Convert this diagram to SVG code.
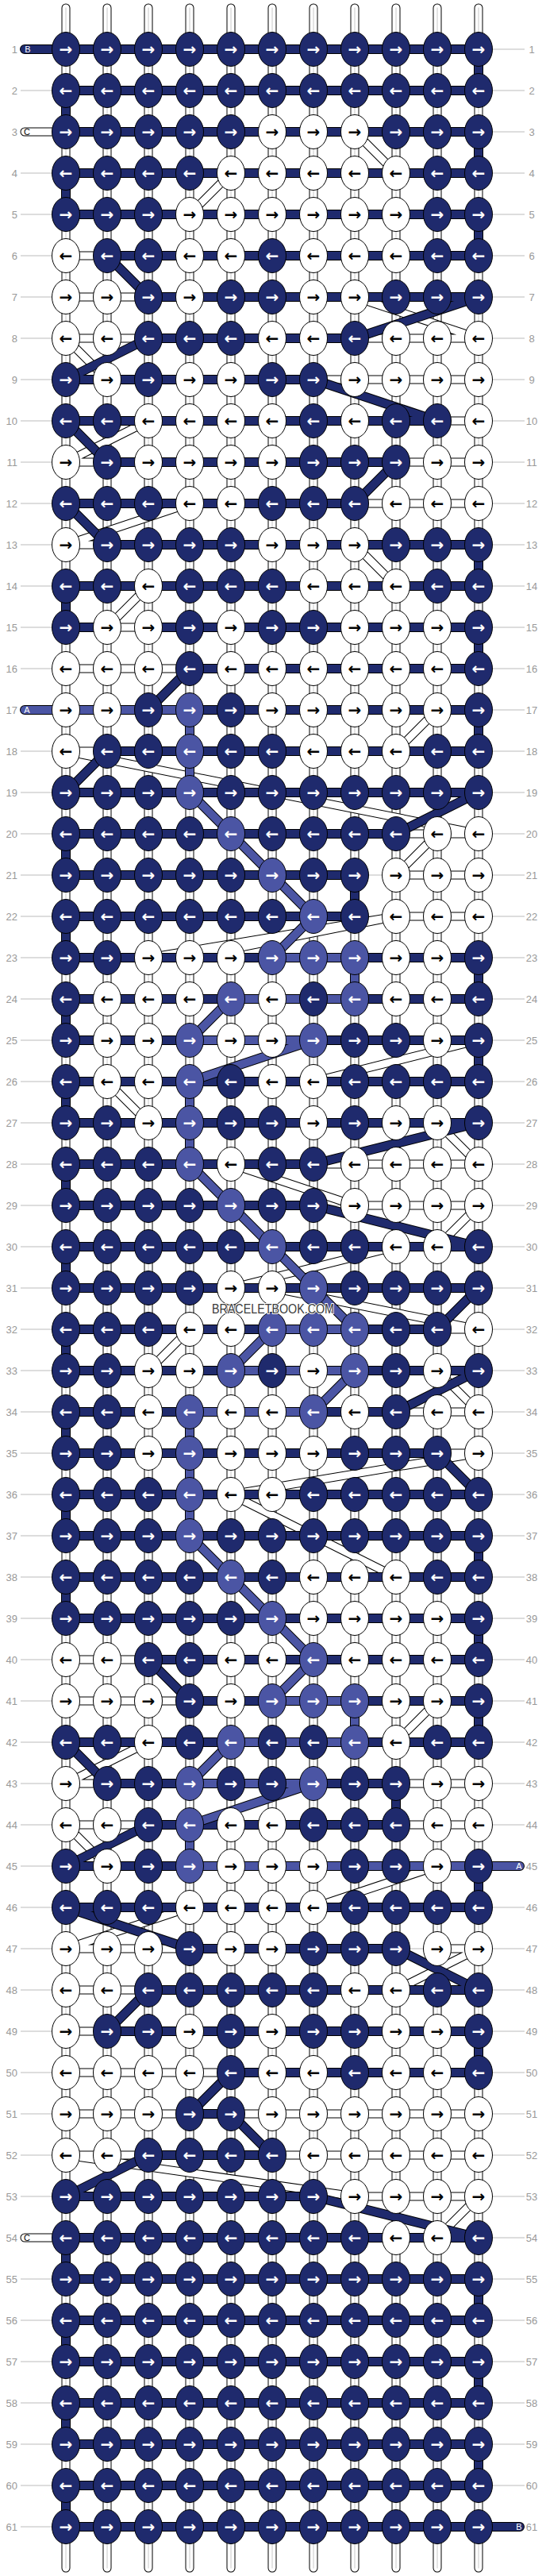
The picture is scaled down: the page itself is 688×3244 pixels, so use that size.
<svg xmlns="http://www.w3.org/2000/svg" xmlns:xlink="http://www.w3.org/1999/xlink" width="688" height="3244" viewBox="0 0 688 3244">
<style>
ellipse{rx:17.5px;ry:21.5px;fill:#1f2a6d;stroke:#000;stroke-width:1}
.w ellipse{fill:#fff}
.m ellipse{fill:#4b55a4}
#knots text{font-family:"DejaVu Sans",sans-serif;font-weight:bold;font-size:20px;fill:#fff;text-anchor:middle;dominant-baseline:central}
#knots .w text{fill:#000}
.lab text{font-family:"Liberation Sans",Arial,sans-serif;font-size:13px;fill:#999;dominant-baseline:central}
.tag{font-family:"Liberation Sans",Arial,sans-serif;font-size:11px;text-anchor:middle;dominant-baseline:central}
</style>
<defs>
<pattern id="rl" patternUnits="userSpaceOnUse" x="0" y="36" width="688" height="52"><rect y="25.5" width="688" height="1" fill="#bbb"/></pattern>
<path id="pv" vector-effect="non-scaling-stroke" d="M1 0V62M2 0V62M3 0V62M4 0V62M5 0V62M6 0V62M7 0V62M8 0V62M9 0V62M10 0V62M11 0V62"/>
<path id="pw" vector-effect="non-scaling-stroke" d="M0 3H1M1 6H2M1 7H3M1 8H3M8 8H11M7 9H11M10 10H11M1 11H2M9 11H11M8 12H11M1 13H2M2 15H3M1 16H4M1 18H2M9 20H11M9 21H11M9 22H11M7 28H11M8 29H11M10 32H11M9 34H11M10 35H11M1 40H3M1 41H4M1 43H2M9 43H11M1 44H3M9 44H11M1 47H4M10 47H11M1 48H3M1 49H2M1 50H5M1 51H4M5 51H11M1 52H3M6 52H11M8 53H11M0 54H1M8 3L9 4M5 4L4 5M8 7L11 8M1 8L2 9M3 10L1 11M4 12L1 13M8 13L9 14M3 14L2 15M10 17L9 18M1 18L11 20M10 20L9 21M9 22L3 23M9 22L4 23M11 25L7 26M2 26L3 27M10 27L11 28M5 28L8 29M11 29L10 30M9 30L5 31M6 31L11 32M4 32L3 33M10 33L11 34M11 35L5 36M5 36L9 38M10 41L9 42M3 42L1 43M1 44L2 45M10 45L7 46M4 46L1 47M11 47L9 48M1 52L8 53M11 53L10 54"/>
<path id="pn" vector-effect="non-scaling-stroke" d="M0 1H11M1 2H11M1 3H11M1 4H11M1 5H11M2 6H11M3 7H11M3 8H8M1 9H7M1 10H10M2 11H9M1 12H8M2 13H11M1 14H11M1 15H2M3 15H11M4 16H11M4 17H11M2 18H11M1 19H11M1 20H9M1 21H8M1 22H8M1 23H6M8 23H11M1 24H5M8 24H11M1 25H4M7 25H11M1 26H11M1 27H11M1 28H7M1 29H7M1 30H11M1 31H11M1 32H6M8 32H10M1 33H5M8 33H11M1 34H4M7 34H9M1 35H10M1 36H11M1 37H11M1 38H11M1 39H11M3 40H11M4 41H6M8 41H11M1 42H5M8 42H11M2 43H4M7 43H9M3 44H9M1 45H4M1 46H11M4 47H9M3 48H11M2 49H11M5 50H11M4 51H5M3 52H6M1 53H7M1 54H11M1 55H11M1 56H11M1 57H11M1 58H11M1 59H11M1 60H11M1 61H12M11 1V2M1 2V3M11 3V4M1 4V5M11 5V6M11 13V14M1 14V15M11 15V16M11 17V18M1 20V21M8 21V22M1 22V23M11 23V24M1 24V25M11 25V26M1 26V27M1 28V29M1 30V31M1 32V33M1 34V35M1 36V37M11 37V38M1 38V39M11 39V40M11 41V42M9 43V44M11 45V46M11 49V50M1 54V55M11 55V56M1 56V57M11 57V58M1 58V59M11 59V60M1 60V61M2 6L3 7M11 7L8 8M3 8L1 9M7 9L10 10M1 10L2 11M9 11L8 12M1 12L2 13M4 16L3 17M2 18L1 19M11 19L9 20M11 27L7 28M7 29L11 30M11 31L10 32M11 33L9 34M10 35L11 36M3 40L4 41M1 42L2 43M3 44L1 45M1 46L4 47M9 47L11 48M3 48L2 49M5 50L4 51M5 51L6 52M3 52L1 53M7 53L11 54"/>
<path id="pm" vector-effect="non-scaling-stroke" d="M0 17H4M6 23H8M5 24H8M4 25H7M6 32H8M5 33H8M4 34H7M6 41H8M5 42H8M4 43H7M4 45H12M4 17V19M8 23V24M4 26V28M4 34V37M8 41V42M4 44V45M4 19L7 22L6 23M5 24L4 25M7 25L4 26M4 28L8 32M6 32L5 33M8 33L7 34M4 37L7 40L6 41M5 42L4 43M7 43L4 44"/>
</defs>
<rect width="688" height="3244" fill="#fff"/>
<rect x="26" y="36" width="635" height="3172" fill="url(#rl)"/>
<g id="connectors" transform="matrix(52 0 0 52 31 10)" fill="none" stroke-linecap="round" stroke-linejoin="round">
<use href="#pv" stroke="#000" stroke-width="11"/>
<use href="#pv" stroke="#fff" stroke-width="9"/>
<use href="#pv" stroke="#c8c8c8" stroke-width="1"/>
<use href="#pw" stroke="#000" stroke-width="11"/>
<use href="#pw" stroke="#fff" stroke-width="9"/>
<use href="#pn" stroke="#000" stroke-width="12"/>
<use href="#pn" stroke="#1f2a6d" stroke-width="10"/>
<use href="#pm" stroke="#000" stroke-width="12"/>
<use href="#pm" stroke="#4b55a4" stroke-width="10"/>
</g>
<g id="tags">
<text class="tag" x="35" y="62" fill="#fff">B</text>
<text class="tag" x="34" y="166" fill="#000">C</text>
<text class="tag" x="34" y="894" fill="#fff">A</text>
<text class="tag" x="34" y="2818" fill="#000">C</text>
<text class="tag" x="654" y="2350" fill="#fff">A</text>
<text class="tag" x="654" y="3182" fill="#fff">B</text>
</g>
<g id="knots">
<g id="r1" transform="translate(0 62)"><g id="n1_1"><ellipse cx="83"/><text x="83">→</text></g><g id="n1_2"><ellipse cx="135"/><text x="135">→</text></g><g id="n1_3"><ellipse cx="187"/><text x="187">→</text></g><g id="n1_4"><ellipse cx="239"/><text x="239">→</text></g><g id="n1_5"><ellipse cx="291"/><text x="291">→</text></g><g id="n1_6"><ellipse cx="343"/><text x="343">→</text></g><g id="n1_7"><ellipse cx="395"/><text x="395">→</text></g><g id="n1_8"><ellipse cx="447"/><text x="447">→</text></g><g id="n1_9"><ellipse cx="499"/><text x="499">→</text></g><g id="n1_10"><ellipse cx="551"/><text x="551">→</text></g><g id="n1_11"><ellipse cx="603"/><text x="603">→</text></g></g>
<g id="r2" transform="translate(0 114)"><g id="n2_1"><ellipse cx="83"/><text x="83">←</text></g><g id="n2_2"><ellipse cx="135"/><text x="135">←</text></g><g id="n2_3"><ellipse cx="187"/><text x="187">←</text></g><g id="n2_4"><ellipse cx="239"/><text x="239">←</text></g><g id="n2_5"><ellipse cx="291"/><text x="291">←</text></g><g id="n2_6"><ellipse cx="343"/><text x="343">←</text></g><g id="n2_7"><ellipse cx="395"/><text x="395">←</text></g><g id="n2_8"><ellipse cx="447"/><text x="447">←</text></g><g id="n2_9"><ellipse cx="499"/><text x="499">←</text></g><g id="n2_10"><ellipse cx="551"/><text x="551">←</text></g><g id="n2_11"><ellipse cx="603"/><text x="603">←</text></g></g>
<g id="r3" transform="translate(0 166)"><g id="n3_1"><ellipse cx="83"/><text x="83">→</text></g><g id="n3_2"><ellipse cx="135"/><text x="135">→</text></g><g id="n3_3"><ellipse cx="187"/><text x="187">→</text></g><g id="n3_4"><ellipse cx="239"/><text x="239">→</text></g><g id="n3_5"><ellipse cx="291"/><text x="291">→</text></g><g id="n3_6" class="w"><ellipse cx="343"/><text x="343">→</text></g><g id="n3_7" class="w"><ellipse cx="395"/><text x="395">→</text></g><g id="n3_8" class="w"><ellipse cx="447"/><text x="447">→</text></g><g id="n3_9"><ellipse cx="499"/><text x="499">→</text></g><g id="n3_10"><ellipse cx="551"/><text x="551">→</text></g><g id="n3_11"><ellipse cx="603"/><text x="603">→</text></g></g>
<g id="r4" transform="translate(0 218)"><g id="n4_1"><ellipse cx="83"/><text x="83">←</text></g><g id="n4_2"><ellipse cx="135"/><text x="135">←</text></g><g id="n4_3"><ellipse cx="187"/><text x="187">←</text></g><g id="n4_4"><ellipse cx="239"/><text x="239">←</text></g><g id="n4_5" class="w"><ellipse cx="291"/><text x="291">←</text></g><g id="n4_6" class="w"><ellipse cx="343"/><text x="343">←</text></g><g id="n4_7" class="w"><ellipse cx="395"/><text x="395">←</text></g><g id="n4_8" class="w"><ellipse cx="447"/><text x="447">←</text></g><g id="n4_9" class="w"><ellipse cx="499"/><text x="499">←</text></g><g id="n4_10"><ellipse cx="551"/><text x="551">←</text></g><g id="n4_11"><ellipse cx="603"/><text x="603">←</text></g></g>
<g id="r5" transform="translate(0 270)"><g id="n5_1"><ellipse cx="83"/><text x="83">→</text></g><g id="n5_2"><ellipse cx="135"/><text x="135">→</text></g><g id="n5_3"><ellipse cx="187"/><text x="187">→</text></g><g id="n5_4" class="w"><ellipse cx="239"/><text x="239">→</text></g><g id="n5_5" class="w"><ellipse cx="291"/><text x="291">→</text></g><g id="n5_6" class="w"><ellipse cx="343"/><text x="343">→</text></g><g id="n5_7" class="w"><ellipse cx="395"/><text x="395">→</text></g><g id="n5_8" class="w"><ellipse cx="447"/><text x="447">→</text></g><g id="n5_9" class="w"><ellipse cx="499"/><text x="499">→</text></g><g id="n5_10"><ellipse cx="551"/><text x="551">→</text></g><g id="n5_11"><ellipse cx="603"/><text x="603">→</text></g></g>
<g id="r6" transform="translate(0 322)"><g id="n6_1" class="w"><ellipse cx="83"/><text x="83">←</text></g><g id="n6_2"><ellipse cx="135"/><text x="135">←</text></g><g id="n6_3"><ellipse cx="187"/><text x="187">←</text></g><g id="n6_4" class="w"><ellipse cx="239"/><text x="239">←</text></g><g id="n6_5" class="w"><ellipse cx="291"/><text x="291">←</text></g><g id="n6_6"><ellipse cx="343"/><text x="343">←</text></g><g id="n6_7" class="w"><ellipse cx="395"/><text x="395">←</text></g><g id="n6_8" class="w"><ellipse cx="447"/><text x="447">←</text></g><g id="n6_9" class="w"><ellipse cx="499"/><text x="499">←</text></g><g id="n6_10"><ellipse cx="551"/><text x="551">←</text></g><g id="n6_11"><ellipse cx="603"/><text x="603">←</text></g></g>
<g id="r7" transform="translate(0 374)"><g id="n7_1" class="w"><ellipse cx="83"/><text x="83">→</text></g><g id="n7_2" class="w"><ellipse cx="135"/><text x="135">→</text></g><g id="n7_3"><ellipse cx="187"/><text x="187">→</text></g><g id="n7_4" class="w"><ellipse cx="239"/><text x="239">→</text></g><g id="n7_5"><ellipse cx="291"/><text x="291">→</text></g><g id="n7_6"><ellipse cx="343"/><text x="343">→</text></g><g id="n7_7" class="w"><ellipse cx="395"/><text x="395">→</text></g><g id="n7_8" class="w"><ellipse cx="447"/><text x="447">→</text></g><g id="n7_9"><ellipse cx="499"/><text x="499">→</text></g><g id="n7_10"><ellipse cx="551"/><text x="551">→</text></g><g id="n7_11"><ellipse cx="603"/><text x="603">→</text></g></g>
<g id="r8" transform="translate(0 426)"><g id="n8_1" class="w"><ellipse cx="83"/><text x="83">←</text></g><g id="n8_2" class="w"><ellipse cx="135"/><text x="135">←</text></g><g id="n8_3"><ellipse cx="187"/><text x="187">←</text></g><g id="n8_4"><ellipse cx="239"/><text x="239">←</text></g><g id="n8_5"><ellipse cx="291"/><text x="291">←</text></g><g id="n8_6" class="w"><ellipse cx="343"/><text x="343">←</text></g><g id="n8_7" class="w"><ellipse cx="395"/><text x="395">←</text></g><g id="n8_8"><ellipse cx="447"/><text x="447">←</text></g><g id="n8_9" class="w"><ellipse cx="499"/><text x="499">←</text></g><g id="n8_10" class="w"><ellipse cx="551"/><text x="551">←</text></g><g id="n8_11" class="w"><ellipse cx="603"/><text x="603">←</text></g></g>
<g id="r9" transform="translate(0 478)"><g id="n9_1"><ellipse cx="83"/><text x="83">→</text></g><g id="n9_2" class="w"><ellipse cx="135"/><text x="135">→</text></g><g id="n9_3"><ellipse cx="187"/><text x="187">→</text></g><g id="n9_4" class="w"><ellipse cx="239"/><text x="239">→</text></g><g id="n9_5" class="w"><ellipse cx="291"/><text x="291">→</text></g><g id="n9_6"><ellipse cx="343"/><text x="343">→</text></g><g id="n9_7"><ellipse cx="395"/><text x="395">→</text></g><g id="n9_8" class="w"><ellipse cx="447"/><text x="447">→</text></g><g id="n9_9" class="w"><ellipse cx="499"/><text x="499">→</text></g><g id="n9_10" class="w"><ellipse cx="551"/><text x="551">→</text></g><g id="n9_11" class="w"><ellipse cx="603"/><text x="603">→</text></g></g>
<g id="r10" transform="translate(0 530)"><g id="n10_1"><ellipse cx="83"/><text x="83">←</text></g><g id="n10_2"><ellipse cx="135"/><text x="135">←</text></g><g id="n10_3" class="w"><ellipse cx="187"/><text x="187">←</text></g><g id="n10_4" class="w"><ellipse cx="239"/><text x="239">←</text></g><g id="n10_5" class="w"><ellipse cx="291"/><text x="291">←</text></g><g id="n10_6" class="w"><ellipse cx="343"/><text x="343">←</text></g><g id="n10_7"><ellipse cx="395"/><text x="395">←</text></g><g id="n10_8" class="w"><ellipse cx="447"/><text x="447">←</text></g><g id="n10_9"><ellipse cx="499"/><text x="499">←</text></g><g id="n10_10"><ellipse cx="551"/><text x="551">←</text></g><g id="n10_11" class="w"><ellipse cx="603"/><text x="603">←</text></g></g>
<g id="r11" transform="translate(0 582)"><g id="n11_1" class="w"><ellipse cx="83"/><text x="83">→</text></g><g id="n11_2"><ellipse cx="135"/><text x="135">→</text></g><g id="n11_3" class="w"><ellipse cx="187"/><text x="187">→</text></g><g id="n11_4" class="w"><ellipse cx="239"/><text x="239">→</text></g><g id="n11_5" class="w"><ellipse cx="291"/><text x="291">→</text></g><g id="n11_6" class="w"><ellipse cx="343"/><text x="343">→</text></g><g id="n11_7"><ellipse cx="395"/><text x="395">→</text></g><g id="n11_8"><ellipse cx="447"/><text x="447">→</text></g><g id="n11_9"><ellipse cx="499"/><text x="499">→</text></g><g id="n11_10" class="w"><ellipse cx="551"/><text x="551">→</text></g><g id="n11_11" class="w"><ellipse cx="603"/><text x="603">→</text></g></g>
<g id="r12" transform="translate(0 634)"><g id="n12_1"><ellipse cx="83"/><text x="83">←</text></g><g id="n12_2"><ellipse cx="135"/><text x="135">←</text></g><g id="n12_3"><ellipse cx="187"/><text x="187">←</text></g><g id="n12_4" class="w"><ellipse cx="239"/><text x="239">←</text></g><g id="n12_5" class="w"><ellipse cx="291"/><text x="291">←</text></g><g id="n12_6"><ellipse cx="343"/><text x="343">←</text></g><g id="n12_7"><ellipse cx="395"/><text x="395">←</text></g><g id="n12_8"><ellipse cx="447"/><text x="447">←</text></g><g id="n12_9" class="w"><ellipse cx="499"/><text x="499">←</text></g><g id="n12_10" class="w"><ellipse cx="551"/><text x="551">←</text></g><g id="n12_11" class="w"><ellipse cx="603"/><text x="603">←</text></g></g>
<g id="r13" transform="translate(0 686)"><g id="n13_1" class="w"><ellipse cx="83"/><text x="83">→</text></g><g id="n13_2"><ellipse cx="135"/><text x="135">→</text></g><g id="n13_3"><ellipse cx="187"/><text x="187">→</text></g><g id="n13_4"><ellipse cx="239"/><text x="239">→</text></g><g id="n13_5"><ellipse cx="291"/><text x="291">→</text></g><g id="n13_6" class="w"><ellipse cx="343"/><text x="343">→</text></g><g id="n13_7" class="w"><ellipse cx="395"/><text x="395">→</text></g><g id="n13_8" class="w"><ellipse cx="447"/><text x="447">→</text></g><g id="n13_9"><ellipse cx="499"/><text x="499">→</text></g><g id="n13_10"><ellipse cx="551"/><text x="551">→</text></g><g id="n13_11"><ellipse cx="603"/><text x="603">→</text></g></g>
<g id="r14" transform="translate(0 738)"><g id="n14_1"><ellipse cx="83"/><text x="83">←</text></g><g id="n14_2"><ellipse cx="135"/><text x="135">←</text></g><g id="n14_3" class="w"><ellipse cx="187"/><text x="187">←</text></g><g id="n14_4"><ellipse cx="239"/><text x="239">←</text></g><g id="n14_5"><ellipse cx="291"/><text x="291">←</text></g><g id="n14_6"><ellipse cx="343"/><text x="343">←</text></g><g id="n14_7" class="w"><ellipse cx="395"/><text x="395">←</text></g><g id="n14_8" class="w"><ellipse cx="447"/><text x="447">←</text></g><g id="n14_9" class="w"><ellipse cx="499"/><text x="499">←</text></g><g id="n14_10"><ellipse cx="551"/><text x="551">←</text></g><g id="n14_11"><ellipse cx="603"/><text x="603">←</text></g></g>
<g id="r15" transform="translate(0 790)"><g id="n15_1"><ellipse cx="83"/><text x="83">→</text></g><g id="n15_2" class="w"><ellipse cx="135"/><text x="135">→</text></g><g id="n15_3" class="w"><ellipse cx="187"/><text x="187">→</text></g><g id="n15_4"><ellipse cx="239"/><text x="239">→</text></g><g id="n15_5" class="w"><ellipse cx="291"/><text x="291">→</text></g><g id="n15_6"><ellipse cx="343"/><text x="343">→</text></g><g id="n15_7"><ellipse cx="395"/><text x="395">→</text></g><g id="n15_8" class="w"><ellipse cx="447"/><text x="447">→</text></g><g id="n15_9" class="w"><ellipse cx="499"/><text x="499">→</text></g><g id="n15_10" class="w"><ellipse cx="551"/><text x="551">→</text></g><g id="n15_11"><ellipse cx="603"/><text x="603">→</text></g></g>
<g id="r16" transform="translate(0 842)"><g id="n16_1" class="w"><ellipse cx="83"/><text x="83">←</text></g><g id="n16_2" class="w"><ellipse cx="135"/><text x="135">←</text></g><g id="n16_3" class="w"><ellipse cx="187"/><text x="187">←</text></g><g id="n16_4"><ellipse cx="239"/><text x="239">←</text></g><g id="n16_5" class="w"><ellipse cx="291"/><text x="291">←</text></g><g id="n16_6" class="w"><ellipse cx="343"/><text x="343">←</text></g><g id="n16_7" class="w"><ellipse cx="395"/><text x="395">←</text></g><g id="n16_8" class="w"><ellipse cx="447"/><text x="447">←</text></g><g id="n16_9" class="w"><ellipse cx="499"/><text x="499">←</text></g><g id="n16_10" class="w"><ellipse cx="551"/><text x="551">←</text></g><g id="n16_11"><ellipse cx="603"/><text x="603">←</text></g></g>
<g id="r17" transform="translate(0 894)"><g id="n17_1" class="w"><ellipse cx="83"/><text x="83">→</text></g><g id="n17_2" class="w"><ellipse cx="135"/><text x="135">→</text></g><g id="n17_3"><ellipse cx="187"/><text x="187">→</text></g><g id="n17_4" class="m"><ellipse cx="239"/><text x="239">→</text></g><g id="n17_5"><ellipse cx="291"/><text x="291">→</text></g><g id="n17_6" class="w"><ellipse cx="343"/><text x="343">→</text></g><g id="n17_7" class="w"><ellipse cx="395"/><text x="395">→</text></g><g id="n17_8" class="w"><ellipse cx="447"/><text x="447">→</text></g><g id="n17_9" class="w"><ellipse cx="499"/><text x="499">→</text></g><g id="n17_10" class="w"><ellipse cx="551"/><text x="551">→</text></g><g id="n17_11"><ellipse cx="603"/><text x="603">→</text></g></g>
<g id="r18" transform="translate(0 946)"><g id="n18_1" class="w"><ellipse cx="83"/><text x="83">←</text></g><g id="n18_2"><ellipse cx="135"/><text x="135">←</text></g><g id="n18_3"><ellipse cx="187"/><text x="187">←</text></g><g id="n18_4" class="m"><ellipse cx="239"/><text x="239">←</text></g><g id="n18_5"><ellipse cx="291"/><text x="291">←</text></g><g id="n18_6"><ellipse cx="343"/><text x="343">←</text></g><g id="n18_7" class="w"><ellipse cx="395"/><text x="395">←</text></g><g id="n18_8" class="w"><ellipse cx="447"/><text x="447">←</text></g><g id="n18_9" class="w"><ellipse cx="499"/><text x="499">←</text></g><g id="n18_10"><ellipse cx="551"/><text x="551">←</text></g><g id="n18_11"><ellipse cx="603"/><text x="603">←</text></g></g>
<g id="r19" transform="translate(0 998)"><g id="n19_1"><ellipse cx="83"/><text x="83">→</text></g><g id="n19_2"><ellipse cx="135"/><text x="135">→</text></g><g id="n19_3"><ellipse cx="187"/><text x="187">→</text></g><g id="n19_4" class="m"><ellipse cx="239"/><text x="239">→</text></g><g id="n19_5"><ellipse cx="291"/><text x="291">→</text></g><g id="n19_6"><ellipse cx="343"/><text x="343">→</text></g><g id="n19_7"><ellipse cx="395"/><text x="395">→</text></g><g id="n19_8"><ellipse cx="447"/><text x="447">→</text></g><g id="n19_9"><ellipse cx="499"/><text x="499">→</text></g><g id="n19_10"><ellipse cx="551"/><text x="551">→</text></g><g id="n19_11"><ellipse cx="603"/><text x="603">→</text></g></g>
<g id="r20" transform="translate(0 1050)"><g id="n20_1"><ellipse cx="83"/><text x="83">←</text></g><g id="n20_2"><ellipse cx="135"/><text x="135">←</text></g><g id="n20_3"><ellipse cx="187"/><text x="187">←</text></g><g id="n20_4"><ellipse cx="239"/><text x="239">←</text></g><g id="n20_5" class="m"><ellipse cx="291"/><text x="291">←</text></g><g id="n20_6"><ellipse cx="343"/><text x="343">←</text></g><g id="n20_7"><ellipse cx="395"/><text x="395">←</text></g><g id="n20_8"><ellipse cx="447"/><text x="447">←</text></g><g id="n20_9"><ellipse cx="499"/><text x="499">←</text></g><g id="n20_10" class="w"><ellipse cx="551"/><text x="551">←</text></g><g id="n20_11" class="w"><ellipse cx="603"/><text x="603">←</text></g></g>
<g id="r21" transform="translate(0 1102)"><g id="n21_1"><ellipse cx="83"/><text x="83">→</text></g><g id="n21_2"><ellipse cx="135"/><text x="135">→</text></g><g id="n21_3"><ellipse cx="187"/><text x="187">→</text></g><g id="n21_4"><ellipse cx="239"/><text x="239">→</text></g><g id="n21_5"><ellipse cx="291"/><text x="291">→</text></g><g id="n21_6" class="m"><ellipse cx="343"/><text x="343">→</text></g><g id="n21_7"><ellipse cx="395"/><text x="395">→</text></g><g id="n21_8"><ellipse cx="447"/><text x="447">→</text></g><g id="n21_9" class="w"><ellipse cx="499"/><text x="499">→</text></g><g id="n21_10" class="w"><ellipse cx="551"/><text x="551">→</text></g><g id="n21_11" class="w"><ellipse cx="603"/><text x="603">→</text></g></g>
<g id="r22" transform="translate(0 1154)"><g id="n22_1"><ellipse cx="83"/><text x="83">←</text></g><g id="n22_2"><ellipse cx="135"/><text x="135">←</text></g><g id="n22_3"><ellipse cx="187"/><text x="187">←</text></g><g id="n22_4"><ellipse cx="239"/><text x="239">←</text></g><g id="n22_5"><ellipse cx="291"/><text x="291">←</text></g><g id="n22_6"><ellipse cx="343"/><text x="343">←</text></g><g id="n22_7" class="m"><ellipse cx="395"/><text x="395">←</text></g><g id="n22_8"><ellipse cx="447"/><text x="447">←</text></g><g id="n22_9" class="w"><ellipse cx="499"/><text x="499">←</text></g><g id="n22_10" class="w"><ellipse cx="551"/><text x="551">←</text></g><g id="n22_11" class="w"><ellipse cx="603"/><text x="603">←</text></g></g>
<g id="r23" transform="translate(0 1206)"><g id="n23_1"><ellipse cx="83"/><text x="83">→</text></g><g id="n23_2"><ellipse cx="135"/><text x="135">→</text></g><g id="n23_3" class="w"><ellipse cx="187"/><text x="187">→</text></g><g id="n23_4" class="w"><ellipse cx="239"/><text x="239">→</text></g><g id="n23_5" class="w"><ellipse cx="291"/><text x="291">→</text></g><g id="n23_6" class="m"><ellipse cx="343"/><text x="343">→</text></g><g id="n23_7" class="m"><ellipse cx="395"/><text x="395">→</text></g><g id="n23_8" class="m"><ellipse cx="447"/><text x="447">→</text></g><g id="n23_9" class="w"><ellipse cx="499"/><text x="499">→</text></g><g id="n23_10" class="w"><ellipse cx="551"/><text x="551">→</text></g><g id="n23_11"><ellipse cx="603"/><text x="603">→</text></g></g>
<g id="r24" transform="translate(0 1258)"><g id="n24_1"><ellipse cx="83"/><text x="83">←</text></g><g id="n24_2" class="w"><ellipse cx="135"/><text x="135">←</text></g><g id="n24_3" class="w"><ellipse cx="187"/><text x="187">←</text></g><g id="n24_4" class="w"><ellipse cx="239"/><text x="239">←</text></g><g id="n24_5" class="m"><ellipse cx="291"/><text x="291">←</text></g><g id="n24_6" class="w"><ellipse cx="343"/><text x="343">←</text></g><g id="n24_7"><ellipse cx="395"/><text x="395">←</text></g><g id="n24_8" class="m"><ellipse cx="447"/><text x="447">←</text></g><g id="n24_9" class="w"><ellipse cx="499"/><text x="499">←</text></g><g id="n24_10" class="w"><ellipse cx="551"/><text x="551">←</text></g><g id="n24_11"><ellipse cx="603"/><text x="603">←</text></g></g>
<g id="r25" transform="translate(0 1310)"><g id="n25_1"><ellipse cx="83"/><text x="83">→</text></g><g id="n25_2" class="w"><ellipse cx="135"/><text x="135">→</text></g><g id="n25_3" class="w"><ellipse cx="187"/><text x="187">→</text></g><g id="n25_4" class="m"><ellipse cx="239"/><text x="239">→</text></g><g id="n25_5" class="w"><ellipse cx="291"/><text x="291">→</text></g><g id="n25_6" class="w"><ellipse cx="343"/><text x="343">→</text></g><g id="n25_7" class="m"><ellipse cx="395"/><text x="395">→</text></g><g id="n25_8"><ellipse cx="447"/><text x="447">→</text></g><g id="n25_9"><ellipse cx="499"/><text x="499">→</text></g><g id="n25_10" class="w"><ellipse cx="551"/><text x="551">→</text></g><g id="n25_11"><ellipse cx="603"/><text x="603">→</text></g></g>
<g id="r26" transform="translate(0 1362)"><g id="n26_1"><ellipse cx="83"/><text x="83">←</text></g><g id="n26_2" class="w"><ellipse cx="135"/><text x="135">←</text></g><g id="n26_3" class="w"><ellipse cx="187"/><text x="187">←</text></g><g id="n26_4" class="m"><ellipse cx="239"/><text x="239">←</text></g><g id="n26_5"><ellipse cx="291"/><text x="291">←</text></g><g id="n26_6" class="w"><ellipse cx="343"/><text x="343">←</text></g><g id="n26_7" class="w"><ellipse cx="395"/><text x="395">←</text></g><g id="n26_8"><ellipse cx="447"/><text x="447">←</text></g><g id="n26_9"><ellipse cx="499"/><text x="499">←</text></g><g id="n26_10"><ellipse cx="551"/><text x="551">←</text></g><g id="n26_11"><ellipse cx="603"/><text x="603">←</text></g></g>
<g id="r27" transform="translate(0 1414)"><g id="n27_1"><ellipse cx="83"/><text x="83">→</text></g><g id="n27_2"><ellipse cx="135"/><text x="135">→</text></g><g id="n27_3" class="w"><ellipse cx="187"/><text x="187">→</text></g><g id="n27_4" class="m"><ellipse cx="239"/><text x="239">→</text></g><g id="n27_5"><ellipse cx="291"/><text x="291">→</text></g><g id="n27_6"><ellipse cx="343"/><text x="343">→</text></g><g id="n27_7" class="w"><ellipse cx="395"/><text x="395">→</text></g><g id="n27_8"><ellipse cx="447"/><text x="447">→</text></g><g id="n27_9" class="w"><ellipse cx="499"/><text x="499">→</text></g><g id="n27_10" class="w"><ellipse cx="551"/><text x="551">→</text></g><g id="n27_11"><ellipse cx="603"/><text x="603">→</text></g></g>
<g id="r28" transform="translate(0 1466)"><g id="n28_1"><ellipse cx="83"/><text x="83">←</text></g><g id="n28_2"><ellipse cx="135"/><text x="135">←</text></g><g id="n28_3"><ellipse cx="187"/><text x="187">←</text></g><g id="n28_4" class="m"><ellipse cx="239"/><text x="239">←</text></g><g id="n28_5" class="w"><ellipse cx="291"/><text x="291">←</text></g><g id="n28_6"><ellipse cx="343"/><text x="343">←</text></g><g id="n28_7"><ellipse cx="395"/><text x="395">←</text></g><g id="n28_8" class="w"><ellipse cx="447"/><text x="447">←</text></g><g id="n28_9" class="w"><ellipse cx="499"/><text x="499">←</text></g><g id="n28_10" class="w"><ellipse cx="551"/><text x="551">←</text></g><g id="n28_11" class="w"><ellipse cx="603"/><text x="603">←</text></g></g>
<g id="r29" transform="translate(0 1518)"><g id="n29_1"><ellipse cx="83"/><text x="83">→</text></g><g id="n29_2"><ellipse cx="135"/><text x="135">→</text></g><g id="n29_3"><ellipse cx="187"/><text x="187">→</text></g><g id="n29_4"><ellipse cx="239"/><text x="239">→</text></g><g id="n29_5" class="m"><ellipse cx="291"/><text x="291">→</text></g><g id="n29_6"><ellipse cx="343"/><text x="343">→</text></g><g id="n29_7"><ellipse cx="395"/><text x="395">→</text></g><g id="n29_8" class="w"><ellipse cx="447"/><text x="447">→</text></g><g id="n29_9" class="w"><ellipse cx="499"/><text x="499">→</text></g><g id="n29_10" class="w"><ellipse cx="551"/><text x="551">→</text></g><g id="n29_11" class="w"><ellipse cx="603"/><text x="603">→</text></g></g>
<g id="r30" transform="translate(0 1570)"><g id="n30_1"><ellipse cx="83"/><text x="83">←</text></g><g id="n30_2"><ellipse cx="135"/><text x="135">←</text></g><g id="n30_3"><ellipse cx="187"/><text x="187">←</text></g><g id="n30_4"><ellipse cx="239"/><text x="239">←</text></g><g id="n30_5"><ellipse cx="291"/><text x="291">←</text></g><g id="n30_6" class="m"><ellipse cx="343"/><text x="343">←</text></g><g id="n30_7"><ellipse cx="395"/><text x="395">←</text></g><g id="n30_8"><ellipse cx="447"/><text x="447">←</text></g><g id="n30_9" class="w"><ellipse cx="499"/><text x="499">←</text></g><g id="n30_10" class="w"><ellipse cx="551"/><text x="551">←</text></g><g id="n30_11"><ellipse cx="603"/><text x="603">←</text></g></g>
<g id="r31" transform="translate(0 1622)"><g id="n31_1"><ellipse cx="83"/><text x="83">→</text></g><g id="n31_2"><ellipse cx="135"/><text x="135">→</text></g><g id="n31_3"><ellipse cx="187"/><text x="187">→</text></g><g id="n31_4"><ellipse cx="239"/><text x="239">→</text></g><g id="n31_5" class="w"><ellipse cx="291"/><text x="291">→</text></g><g id="n31_6" class="w"><ellipse cx="343"/><text x="343">→</text></g><g id="n31_7" class="m"><ellipse cx="395"/><text x="395">→</text></g><g id="n31_8"><ellipse cx="447"/><text x="447">→</text></g><g id="n31_9"><ellipse cx="499"/><text x="499">→</text></g><g id="n31_10"><ellipse cx="551"/><text x="551">→</text></g><g id="n31_11"><ellipse cx="603"/><text x="603">→</text></g></g>
<g id="r32" transform="translate(0 1674)"><g id="n32_1"><ellipse cx="83"/><text x="83">←</text></g><g id="n32_2"><ellipse cx="135"/><text x="135">←</text></g><g id="n32_3"><ellipse cx="187"/><text x="187">←</text></g><g id="n32_4" class="w"><ellipse cx="239"/><text x="239">←</text></g><g id="n32_5" class="w"><ellipse cx="291"/><text x="291">←</text></g><g id="n32_6" class="m"><ellipse cx="343"/><text x="343">←</text></g><g id="n32_7" class="m"><ellipse cx="395"/><text x="395">←</text></g><g id="n32_8" class="m"><ellipse cx="447"/><text x="447">←</text></g><g id="n32_9"><ellipse cx="499"/><text x="499">←</text></g><g id="n32_10"><ellipse cx="551"/><text x="551">←</text></g><g id="n32_11" class="w"><ellipse cx="603"/><text x="603">←</text></g></g>
<g id="r33" transform="translate(0 1726)"><g id="n33_1"><ellipse cx="83"/><text x="83">→</text></g><g id="n33_2"><ellipse cx="135"/><text x="135">→</text></g><g id="n33_3" class="w"><ellipse cx="187"/><text x="187">→</text></g><g id="n33_4" class="w"><ellipse cx="239"/><text x="239">→</text></g><g id="n33_5" class="m"><ellipse cx="291"/><text x="291">→</text></g><g id="n33_6"><ellipse cx="343"/><text x="343">→</text></g><g id="n33_7" class="w"><ellipse cx="395"/><text x="395">→</text></g><g id="n33_8" class="m"><ellipse cx="447"/><text x="447">→</text></g><g id="n33_9"><ellipse cx="499"/><text x="499">→</text></g><g id="n33_10" class="w"><ellipse cx="551"/><text x="551">→</text></g><g id="n33_11"><ellipse cx="603"/><text x="603">→</text></g></g>
<g id="r34" transform="translate(0 1778)"><g id="n34_1"><ellipse cx="83"/><text x="83">←</text></g><g id="n34_2"><ellipse cx="135"/><text x="135">←</text></g><g id="n34_3" class="w"><ellipse cx="187"/><text x="187">←</text></g><g id="n34_4" class="m"><ellipse cx="239"/><text x="239">←</text></g><g id="n34_5" class="w"><ellipse cx="291"/><text x="291">←</text></g><g id="n34_6" class="w"><ellipse cx="343"/><text x="343">←</text></g><g id="n34_7" class="m"><ellipse cx="395"/><text x="395">←</text></g><g id="n34_8" class="w"><ellipse cx="447"/><text x="447">←</text></g><g id="n34_9"><ellipse cx="499"/><text x="499">←</text></g><g id="n34_10" class="w"><ellipse cx="551"/><text x="551">←</text></g><g id="n34_11" class="w"><ellipse cx="603"/><text x="603">←</text></g></g>
<g id="r35" transform="translate(0 1830)"><g id="n35_1"><ellipse cx="83"/><text x="83">→</text></g><g id="n35_2"><ellipse cx="135"/><text x="135">→</text></g><g id="n35_3" class="w"><ellipse cx="187"/><text x="187">→</text></g><g id="n35_4" class="m"><ellipse cx="239"/><text x="239">→</text></g><g id="n35_5" class="w"><ellipse cx="291"/><text x="291">→</text></g><g id="n35_6" class="w"><ellipse cx="343"/><text x="343">→</text></g><g id="n35_7" class="w"><ellipse cx="395"/><text x="395">→</text></g><g id="n35_8"><ellipse cx="447"/><text x="447">→</text></g><g id="n35_9"><ellipse cx="499"/><text x="499">→</text></g><g id="n35_10"><ellipse cx="551"/><text x="551">→</text></g><g id="n35_11" class="w"><ellipse cx="603"/><text x="603">→</text></g></g>
<g id="r36" transform="translate(0 1882)"><g id="n36_1"><ellipse cx="83"/><text x="83">←</text></g><g id="n36_2"><ellipse cx="135"/><text x="135">←</text></g><g id="n36_3"><ellipse cx="187"/><text x="187">←</text></g><g id="n36_4" class="m"><ellipse cx="239"/><text x="239">←</text></g><g id="n36_5" class="w"><ellipse cx="291"/><text x="291">←</text></g><g id="n36_6" class="w"><ellipse cx="343"/><text x="343">←</text></g><g id="n36_7"><ellipse cx="395"/><text x="395">←</text></g><g id="n36_8"><ellipse cx="447"/><text x="447">←</text></g><g id="n36_9"><ellipse cx="499"/><text x="499">←</text></g><g id="n36_10"><ellipse cx="551"/><text x="551">←</text></g><g id="n36_11"><ellipse cx="603"/><text x="603">←</text></g></g>
<g id="r37" transform="translate(0 1934)"><g id="n37_1"><ellipse cx="83"/><text x="83">→</text></g><g id="n37_2"><ellipse cx="135"/><text x="135">→</text></g><g id="n37_3"><ellipse cx="187"/><text x="187">→</text></g><g id="n37_4" class="m"><ellipse cx="239"/><text x="239">→</text></g><g id="n37_5"><ellipse cx="291"/><text x="291">→</text></g><g id="n37_6"><ellipse cx="343"/><text x="343">→</text></g><g id="n37_7"><ellipse cx="395"/><text x="395">→</text></g><g id="n37_8"><ellipse cx="447"/><text x="447">→</text></g><g id="n37_9"><ellipse cx="499"/><text x="499">→</text></g><g id="n37_10"><ellipse cx="551"/><text x="551">→</text></g><g id="n37_11"><ellipse cx="603"/><text x="603">→</text></g></g>
<g id="r38" transform="translate(0 1986)"><g id="n38_1"><ellipse cx="83"/><text x="83">←</text></g><g id="n38_2"><ellipse cx="135"/><text x="135">←</text></g><g id="n38_3"><ellipse cx="187"/><text x="187">←</text></g><g id="n38_4"><ellipse cx="239"/><text x="239">←</text></g><g id="n38_5" class="m"><ellipse cx="291"/><text x="291">←</text></g><g id="n38_6"><ellipse cx="343"/><text x="343">←</text></g><g id="n38_7" class="w"><ellipse cx="395"/><text x="395">←</text></g><g id="n38_8" class="w"><ellipse cx="447"/><text x="447">←</text></g><g id="n38_9" class="w"><ellipse cx="499"/><text x="499">←</text></g><g id="n38_10"><ellipse cx="551"/><text x="551">←</text></g><g id="n38_11"><ellipse cx="603"/><text x="603">←</text></g></g>
<g id="r39" transform="translate(0 2038)"><g id="n39_1"><ellipse cx="83"/><text x="83">→</text></g><g id="n39_2"><ellipse cx="135"/><text x="135">→</text></g><g id="n39_3"><ellipse cx="187"/><text x="187">→</text></g><g id="n39_4"><ellipse cx="239"/><text x="239">→</text></g><g id="n39_5"><ellipse cx="291"/><text x="291">→</text></g><g id="n39_6" class="m"><ellipse cx="343"/><text x="343">→</text></g><g id="n39_7" class="w"><ellipse cx="395"/><text x="395">→</text></g><g id="n39_8" class="w"><ellipse cx="447"/><text x="447">→</text></g><g id="n39_9" class="w"><ellipse cx="499"/><text x="499">→</text></g><g id="n39_10" class="w"><ellipse cx="551"/><text x="551">→</text></g><g id="n39_11"><ellipse cx="603"/><text x="603">→</text></g></g>
<g id="r40" transform="translate(0 2090)"><g id="n40_1" class="w"><ellipse cx="83"/><text x="83">←</text></g><g id="n40_2" class="w"><ellipse cx="135"/><text x="135">←</text></g><g id="n40_3"><ellipse cx="187"/><text x="187">←</text></g><g id="n40_4"><ellipse cx="239"/><text x="239">←</text></g><g id="n40_5" class="w"><ellipse cx="291"/><text x="291">←</text></g><g id="n40_6" class="w"><ellipse cx="343"/><text x="343">←</text></g><g id="n40_7" class="m"><ellipse cx="395"/><text x="395">←</text></g><g id="n40_8" class="w"><ellipse cx="447"/><text x="447">←</text></g><g id="n40_9" class="w"><ellipse cx="499"/><text x="499">←</text></g><g id="n40_10" class="w"><ellipse cx="551"/><text x="551">←</text></g><g id="n40_11"><ellipse cx="603"/><text x="603">←</text></g></g>
<g id="r41" transform="translate(0 2142)"><g id="n41_1" class="w"><ellipse cx="83"/><text x="83">→</text></g><g id="n41_2" class="w"><ellipse cx="135"/><text x="135">→</text></g><g id="n41_3" class="w"><ellipse cx="187"/><text x="187">→</text></g><g id="n41_4"><ellipse cx="239"/><text x="239">→</text></g><g id="n41_5" class="w"><ellipse cx="291"/><text x="291">→</text></g><g id="n41_6" class="m"><ellipse cx="343"/><text x="343">→</text></g><g id="n41_7" class="m"><ellipse cx="395"/><text x="395">→</text></g><g id="n41_8" class="m"><ellipse cx="447"/><text x="447">→</text></g><g id="n41_9" class="w"><ellipse cx="499"/><text x="499">→</text></g><g id="n41_10" class="w"><ellipse cx="551"/><text x="551">→</text></g><g id="n41_11"><ellipse cx="603"/><text x="603">→</text></g></g>
<g id="r42" transform="translate(0 2194)"><g id="n42_1"><ellipse cx="83"/><text x="83">←</text></g><g id="n42_2"><ellipse cx="135"/><text x="135">←</text></g><g id="n42_3" class="w"><ellipse cx="187"/><text x="187">←</text></g><g id="n42_4"><ellipse cx="239"/><text x="239">←</text></g><g id="n42_5" class="m"><ellipse cx="291"/><text x="291">←</text></g><g id="n42_6"><ellipse cx="343"/><text x="343">←</text></g><g id="n42_7"><ellipse cx="395"/><text x="395">←</text></g><g id="n42_8" class="m"><ellipse cx="447"/><text x="447">←</text></g><g id="n42_9" class="w"><ellipse cx="499"/><text x="499">←</text></g><g id="n42_10"><ellipse cx="551"/><text x="551">←</text></g><g id="n42_11"><ellipse cx="603"/><text x="603">←</text></g></g>
<g id="r43" transform="translate(0 2246)"><g id="n43_1" class="w"><ellipse cx="83"/><text x="83">→</text></g><g id="n43_2"><ellipse cx="135"/><text x="135">→</text></g><g id="n43_3"><ellipse cx="187"/><text x="187">→</text></g><g id="n43_4" class="m"><ellipse cx="239"/><text x="239">→</text></g><g id="n43_5"><ellipse cx="291"/><text x="291">→</text></g><g id="n43_6"><ellipse cx="343"/><text x="343">→</text></g><g id="n43_7" class="m"><ellipse cx="395"/><text x="395">→</text></g><g id="n43_8"><ellipse cx="447"/><text x="447">→</text></g><g id="n43_9"><ellipse cx="499"/><text x="499">→</text></g><g id="n43_10" class="w"><ellipse cx="551"/><text x="551">→</text></g><g id="n43_11" class="w"><ellipse cx="603"/><text x="603">→</text></g></g>
<g id="r44" transform="translate(0 2298)"><g id="n44_1" class="w"><ellipse cx="83"/><text x="83">←</text></g><g id="n44_2" class="w"><ellipse cx="135"/><text x="135">←</text></g><g id="n44_3"><ellipse cx="187"/><text x="187">←</text></g><g id="n44_4" class="m"><ellipse cx="239"/><text x="239">←</text></g><g id="n44_5" class="w"><ellipse cx="291"/><text x="291">←</text></g><g id="n44_6" class="w"><ellipse cx="343"/><text x="343">←</text></g><g id="n44_7"><ellipse cx="395"/><text x="395">←</text></g><g id="n44_8"><ellipse cx="447"/><text x="447">←</text></g><g id="n44_9"><ellipse cx="499"/><text x="499">←</text></g><g id="n44_10" class="w"><ellipse cx="551"/><text x="551">←</text></g><g id="n44_11" class="w"><ellipse cx="603"/><text x="603">←</text></g></g>
<g id="r45" transform="translate(0 2350)"><g id="n45_1"><ellipse cx="83"/><text x="83">→</text></g><g id="n45_2" class="w"><ellipse cx="135"/><text x="135">→</text></g><g id="n45_3"><ellipse cx="187"/><text x="187">→</text></g><g id="n45_4" class="m"><ellipse cx="239"/><text x="239">→</text></g><g id="n45_5" class="w"><ellipse cx="291"/><text x="291">→</text></g><g id="n45_6" class="w"><ellipse cx="343"/><text x="343">→</text></g><g id="n45_7" class="w"><ellipse cx="395"/><text x="395">→</text></g><g id="n45_8"><ellipse cx="447"/><text x="447">→</text></g><g id="n45_9"><ellipse cx="499"/><text x="499">→</text></g><g id="n45_10" class="w"><ellipse cx="551"/><text x="551">→</text></g><g id="n45_11"><ellipse cx="603"/><text x="603">→</text></g></g>
<g id="r46" transform="translate(0 2402)"><g id="n46_1"><ellipse cx="83"/><text x="83">←</text></g><g id="n46_2"><ellipse cx="135"/><text x="135">←</text></g><g id="n46_3"><ellipse cx="187"/><text x="187">←</text></g><g id="n46_4" class="w"><ellipse cx="239"/><text x="239">←</text></g><g id="n46_5" class="w"><ellipse cx="291"/><text x="291">←</text></g><g id="n46_6" class="w"><ellipse cx="343"/><text x="343">←</text></g><g id="n46_7" class="w"><ellipse cx="395"/><text x="395">←</text></g><g id="n46_8"><ellipse cx="447"/><text x="447">←</text></g><g id="n46_9"><ellipse cx="499"/><text x="499">←</text></g><g id="n46_10"><ellipse cx="551"/><text x="551">←</text></g><g id="n46_11"><ellipse cx="603"/><text x="603">←</text></g></g>
<g id="r47" transform="translate(0 2454)"><g id="n47_1" class="w"><ellipse cx="83"/><text x="83">→</text></g><g id="n47_2" class="w"><ellipse cx="135"/><text x="135">→</text></g><g id="n47_3" class="w"><ellipse cx="187"/><text x="187">→</text></g><g id="n47_4"><ellipse cx="239"/><text x="239">→</text></g><g id="n47_5" class="w"><ellipse cx="291"/><text x="291">→</text></g><g id="n47_6" class="w"><ellipse cx="343"/><text x="343">→</text></g><g id="n47_7"><ellipse cx="395"/><text x="395">→</text></g><g id="n47_8"><ellipse cx="447"/><text x="447">→</text></g><g id="n47_9"><ellipse cx="499"/><text x="499">→</text></g><g id="n47_10" class="w"><ellipse cx="551"/><text x="551">→</text></g><g id="n47_11" class="w"><ellipse cx="603"/><text x="603">→</text></g></g>
<g id="r48" transform="translate(0 2506)"><g id="n48_1" class="w"><ellipse cx="83"/><text x="83">←</text></g><g id="n48_2" class="w"><ellipse cx="135"/><text x="135">←</text></g><g id="n48_3"><ellipse cx="187"/><text x="187">←</text></g><g id="n48_4"><ellipse cx="239"/><text x="239">←</text></g><g id="n48_5"><ellipse cx="291"/><text x="291">←</text></g><g id="n48_6"><ellipse cx="343"/><text x="343">←</text></g><g id="n48_7"><ellipse cx="395"/><text x="395">←</text></g><g id="n48_8" class="w"><ellipse cx="447"/><text x="447">←</text></g><g id="n48_9" class="w"><ellipse cx="499"/><text x="499">←</text></g><g id="n48_10"><ellipse cx="551"/><text x="551">←</text></g><g id="n48_11"><ellipse cx="603"/><text x="603">←</text></g></g>
<g id="r49" transform="translate(0 2558)"><g id="n49_1" class="w"><ellipse cx="83"/><text x="83">→</text></g><g id="n49_2"><ellipse cx="135"/><text x="135">→</text></g><g id="n49_3"><ellipse cx="187"/><text x="187">→</text></g><g id="n49_4" class="w"><ellipse cx="239"/><text x="239">→</text></g><g id="n49_5"><ellipse cx="291"/><text x="291">→</text></g><g id="n49_6" class="w"><ellipse cx="343"/><text x="343">→</text></g><g id="n49_7"><ellipse cx="395"/><text x="395">→</text></g><g id="n49_8"><ellipse cx="447"/><text x="447">→</text></g><g id="n49_9" class="w"><ellipse cx="499"/><text x="499">→</text></g><g id="n49_10" class="w"><ellipse cx="551"/><text x="551">→</text></g><g id="n49_11"><ellipse cx="603"/><text x="603">→</text></g></g>
<g id="r50" transform="translate(0 2610)"><g id="n50_1" class="w"><ellipse cx="83"/><text x="83">←</text></g><g id="n50_2" class="w"><ellipse cx="135"/><text x="135">←</text></g><g id="n50_3" class="w"><ellipse cx="187"/><text x="187">←</text></g><g id="n50_4" class="w"><ellipse cx="239"/><text x="239">←</text></g><g id="n50_5"><ellipse cx="291"/><text x="291">←</text></g><g id="n50_6" class="w"><ellipse cx="343"/><text x="343">←</text></g><g id="n50_7" class="w"><ellipse cx="395"/><text x="395">←</text></g><g id="n50_8"><ellipse cx="447"/><text x="447">←</text></g><g id="n50_9" class="w"><ellipse cx="499"/><text x="499">←</text></g><g id="n50_10" class="w"><ellipse cx="551"/><text x="551">←</text></g><g id="n50_11"><ellipse cx="603"/><text x="603">←</text></g></g>
<g id="r51" transform="translate(0 2662)"><g id="n51_1" class="w"><ellipse cx="83"/><text x="83">→</text></g><g id="n51_2" class="w"><ellipse cx="135"/><text x="135">→</text></g><g id="n51_3" class="w"><ellipse cx="187"/><text x="187">→</text></g><g id="n51_4"><ellipse cx="239"/><text x="239">→</text></g><g id="n51_5"><ellipse cx="291"/><text x="291">→</text></g><g id="n51_6" class="w"><ellipse cx="343"/><text x="343">→</text></g><g id="n51_7" class="w"><ellipse cx="395"/><text x="395">→</text></g><g id="n51_8" class="w"><ellipse cx="447"/><text x="447">→</text></g><g id="n51_9" class="w"><ellipse cx="499"/><text x="499">→</text></g><g id="n51_10" class="w"><ellipse cx="551"/><text x="551">→</text></g><g id="n51_11" class="w"><ellipse cx="603"/><text x="603">→</text></g></g>
<g id="r52" transform="translate(0 2714)"><g id="n52_1" class="w"><ellipse cx="83"/><text x="83">←</text></g><g id="n52_2" class="w"><ellipse cx="135"/><text x="135">←</text></g><g id="n52_3"><ellipse cx="187"/><text x="187">←</text></g><g id="n52_4"><ellipse cx="239"/><text x="239">←</text></g><g id="n52_5"><ellipse cx="291"/><text x="291">←</text></g><g id="n52_6"><ellipse cx="343"/><text x="343">←</text></g><g id="n52_7" class="w"><ellipse cx="395"/><text x="395">←</text></g><g id="n52_8" class="w"><ellipse cx="447"/><text x="447">←</text></g><g id="n52_9" class="w"><ellipse cx="499"/><text x="499">←</text></g><g id="n52_10" class="w"><ellipse cx="551"/><text x="551">←</text></g><g id="n52_11" class="w"><ellipse cx="603"/><text x="603">←</text></g></g>
<g id="r53" transform="translate(0 2766)"><g id="n53_1"><ellipse cx="83"/><text x="83">→</text></g><g id="n53_2"><ellipse cx="135"/><text x="135">→</text></g><g id="n53_3"><ellipse cx="187"/><text x="187">→</text></g><g id="n53_4"><ellipse cx="239"/><text x="239">→</text></g><g id="n53_5"><ellipse cx="291"/><text x="291">→</text></g><g id="n53_6"><ellipse cx="343"/><text x="343">→</text></g><g id="n53_7"><ellipse cx="395"/><text x="395">→</text></g><g id="n53_8" class="w"><ellipse cx="447"/><text x="447">→</text></g><g id="n53_9" class="w"><ellipse cx="499"/><text x="499">→</text></g><g id="n53_10" class="w"><ellipse cx="551"/><text x="551">→</text></g><g id="n53_11" class="w"><ellipse cx="603"/><text x="603">→</text></g></g>
<g id="r54" transform="translate(0 2818)"><g id="n54_1"><ellipse cx="83"/><text x="83">←</text></g><g id="n54_2"><ellipse cx="135"/><text x="135">←</text></g><g id="n54_3"><ellipse cx="187"/><text x="187">←</text></g><g id="n54_4"><ellipse cx="239"/><text x="239">←</text></g><g id="n54_5"><ellipse cx="291"/><text x="291">←</text></g><g id="n54_6"><ellipse cx="343"/><text x="343">←</text></g><g id="n54_7"><ellipse cx="395"/><text x="395">←</text></g><g id="n54_8"><ellipse cx="447"/><text x="447">←</text></g><g id="n54_9" class="w"><ellipse cx="499"/><text x="499">←</text></g><g id="n54_10" class="w"><ellipse cx="551"/><text x="551">←</text></g><g id="n54_11"><ellipse cx="603"/><text x="603">←</text></g></g>
<g id="r55" transform="translate(0 2870)"><g id="n55_1"><ellipse cx="83"/><text x="83">→</text></g><g id="n55_2"><ellipse cx="135"/><text x="135">→</text></g><g id="n55_3"><ellipse cx="187"/><text x="187">→</text></g><g id="n55_4"><ellipse cx="239"/><text x="239">→</text></g><g id="n55_5"><ellipse cx="291"/><text x="291">→</text></g><g id="n55_6"><ellipse cx="343"/><text x="343">→</text></g><g id="n55_7"><ellipse cx="395"/><text x="395">→</text></g><g id="n55_8"><ellipse cx="447"/><text x="447">→</text></g><g id="n55_9"><ellipse cx="499"/><text x="499">→</text></g><g id="n55_10"><ellipse cx="551"/><text x="551">→</text></g><g id="n55_11"><ellipse cx="603"/><text x="603">→</text></g></g>
<g id="r56" transform="translate(0 2922)"><g id="n56_1"><ellipse cx="83"/><text x="83">←</text></g><g id="n56_2"><ellipse cx="135"/><text x="135">←</text></g><g id="n56_3"><ellipse cx="187"/><text x="187">←</text></g><g id="n56_4"><ellipse cx="239"/><text x="239">←</text></g><g id="n56_5"><ellipse cx="291"/><text x="291">←</text></g><g id="n56_6"><ellipse cx="343"/><text x="343">←</text></g><g id="n56_7"><ellipse cx="395"/><text x="395">←</text></g><g id="n56_8"><ellipse cx="447"/><text x="447">←</text></g><g id="n56_9"><ellipse cx="499"/><text x="499">←</text></g><g id="n56_10"><ellipse cx="551"/><text x="551">←</text></g><g id="n56_11"><ellipse cx="603"/><text x="603">←</text></g></g>
<g id="r57" transform="translate(0 2974)"><g id="n57_1"><ellipse cx="83"/><text x="83">→</text></g><g id="n57_2"><ellipse cx="135"/><text x="135">→</text></g><g id="n57_3"><ellipse cx="187"/><text x="187">→</text></g><g id="n57_4"><ellipse cx="239"/><text x="239">→</text></g><g id="n57_5"><ellipse cx="291"/><text x="291">→</text></g><g id="n57_6"><ellipse cx="343"/><text x="343">→</text></g><g id="n57_7"><ellipse cx="395"/><text x="395">→</text></g><g id="n57_8"><ellipse cx="447"/><text x="447">→</text></g><g id="n57_9"><ellipse cx="499"/><text x="499">→</text></g><g id="n57_10"><ellipse cx="551"/><text x="551">→</text></g><g id="n57_11"><ellipse cx="603"/><text x="603">→</text></g></g>
<g id="r58" transform="translate(0 3026)"><g id="n58_1"><ellipse cx="83"/><text x="83">←</text></g><g id="n58_2"><ellipse cx="135"/><text x="135">←</text></g><g id="n58_3"><ellipse cx="187"/><text x="187">←</text></g><g id="n58_4"><ellipse cx="239"/><text x="239">←</text></g><g id="n58_5"><ellipse cx="291"/><text x="291">←</text></g><g id="n58_6"><ellipse cx="343"/><text x="343">←</text></g><g id="n58_7"><ellipse cx="395"/><text x="395">←</text></g><g id="n58_8"><ellipse cx="447"/><text x="447">←</text></g><g id="n58_9"><ellipse cx="499"/><text x="499">←</text></g><g id="n58_10"><ellipse cx="551"/><text x="551">←</text></g><g id="n58_11"><ellipse cx="603"/><text x="603">←</text></g></g>
<g id="r59" transform="translate(0 3078)"><g id="n59_1"><ellipse cx="83"/><text x="83">→</text></g><g id="n59_2"><ellipse cx="135"/><text x="135">→</text></g><g id="n59_3"><ellipse cx="187"/><text x="187">→</text></g><g id="n59_4"><ellipse cx="239"/><text x="239">→</text></g><g id="n59_5"><ellipse cx="291"/><text x="291">→</text></g><g id="n59_6"><ellipse cx="343"/><text x="343">→</text></g><g id="n59_7"><ellipse cx="395"/><text x="395">→</text></g><g id="n59_8"><ellipse cx="447"/><text x="447">→</text></g><g id="n59_9"><ellipse cx="499"/><text x="499">→</text></g><g id="n59_10"><ellipse cx="551"/><text x="551">→</text></g><g id="n59_11"><ellipse cx="603"/><text x="603">→</text></g></g>
<g id="r60" transform="translate(0 3130)"><g id="n60_1"><ellipse cx="83"/><text x="83">←</text></g><g id="n60_2"><ellipse cx="135"/><text x="135">←</text></g><g id="n60_3"><ellipse cx="187"/><text x="187">←</text></g><g id="n60_4"><ellipse cx="239"/><text x="239">←</text></g><g id="n60_5"><ellipse cx="291"/><text x="291">←</text></g><g id="n60_6"><ellipse cx="343"/><text x="343">←</text></g><g id="n60_7"><ellipse cx="395"/><text x="395">←</text></g><g id="n60_8"><ellipse cx="447"/><text x="447">←</text></g><g id="n60_9"><ellipse cx="499"/><text x="499">←</text></g><g id="n60_10"><ellipse cx="551"/><text x="551">←</text></g><g id="n60_11"><ellipse cx="603"/><text x="603">←</text></g></g>
<g id="r61" transform="translate(0 3182)"><g id="n61_1"><ellipse cx="83"/><text x="83">→</text></g><g id="n61_2"><ellipse cx="135"/><text x="135">→</text></g><g id="n61_3"><ellipse cx="187"/><text x="187">→</text></g><g id="n61_4"><ellipse cx="239"/><text x="239">→</text></g><g id="n61_5"><ellipse cx="291"/><text x="291">→</text></g><g id="n61_6"><ellipse cx="343"/><text x="343">→</text></g><g id="n61_7"><ellipse cx="395"/><text x="395">→</text></g><g id="n61_8"><ellipse cx="447"/><text x="447">→</text></g><g id="n61_9"><ellipse cx="499"/><text x="499">→</text></g><g id="n61_10"><ellipse cx="551"/><text x="551">→</text></g><g id="n61_11"><ellipse cx="603"/><text x="603">→</text></g></g>
</g>
<g id="labels-left" class="lab" text-anchor="end">
<text x="22" y="62">1</text><text x="22" y="114">2</text><text x="22" y="166">3</text><text x="22" y="218">4</text><text x="22" y="270">5</text><text x="22" y="322">6</text><text x="22" y="374">7</text><text x="22" y="426">8</text><text x="22" y="478">9</text><text x="22" y="530">10</text><text x="22" y="582">11</text><text x="22" y="634">12</text><text x="22" y="686">13</text><text x="22" y="738">14</text><text x="22" y="790">15</text><text x="22" y="842">16</text><text x="22" y="894">17</text><text x="22" y="946">18</text><text x="22" y="998">19</text><text x="22" y="1050">20</text><text x="22" y="1102">21</text><text x="22" y="1154">22</text><text x="22" y="1206">23</text><text x="22" y="1258">24</text><text x="22" y="1310">25</text><text x="22" y="1362">26</text><text x="22" y="1414">27</text><text x="22" y="1466">28</text><text x="22" y="1518">29</text><text x="22" y="1570">30</text><text x="22" y="1622">31</text><text x="22" y="1674">32</text><text x="22" y="1726">33</text><text x="22" y="1778">34</text><text x="22" y="1830">35</text><text x="22" y="1882">36</text><text x="22" y="1934">37</text><text x="22" y="1986">38</text><text x="22" y="2038">39</text><text x="22" y="2090">40</text><text x="22" y="2142">41</text><text x="22" y="2194">42</text><text x="22" y="2246">43</text><text x="22" y="2298">44</text><text x="22" y="2350">45</text><text x="22" y="2402">46</text><text x="22" y="2454">47</text><text x="22" y="2506">48</text><text x="22" y="2558">49</text><text x="22" y="2610">50</text><text x="22" y="2662">51</text><text x="22" y="2714">52</text><text x="22" y="2766">53</text><text x="22" y="2818">54</text><text x="22" y="2870">55</text><text x="22" y="2922">56</text><text x="22" y="2974">57</text><text x="22" y="3026">58</text><text x="22" y="3078">59</text><text x="22" y="3130">60</text><text x="22" y="3182">61</text>
</g>
<g id="labels-right" class="lab" text-anchor="middle">
<text x="670" y="62">1</text><text x="670" y="114">2</text><text x="670" y="166">3</text><text x="670" y="218">4</text><text x="670" y="270">5</text><text x="670" y="322">6</text><text x="670" y="374">7</text><text x="670" y="426">8</text><text x="670" y="478">9</text><text x="670" y="530">10</text><text x="670" y="582">11</text><text x="670" y="634">12</text><text x="670" y="686">13</text><text x="670" y="738">14</text><text x="670" y="790">15</text><text x="670" y="842">16</text><text x="670" y="894">17</text><text x="670" y="946">18</text><text x="670" y="998">19</text><text x="670" y="1050">20</text><text x="670" y="1102">21</text><text x="670" y="1154">22</text><text x="670" y="1206">23</text><text x="670" y="1258">24</text><text x="670" y="1310">25</text><text x="670" y="1362">26</text><text x="670" y="1414">27</text><text x="670" y="1466">28</text><text x="670" y="1518">29</text><text x="670" y="1570">30</text><text x="670" y="1622">31</text><text x="670" y="1674">32</text><text x="670" y="1726">33</text><text x="670" y="1778">34</text><text x="670" y="1830">35</text><text x="670" y="1882">36</text><text x="670" y="1934">37</text><text x="670" y="1986">38</text><text x="670" y="2038">39</text><text x="670" y="2090">40</text><text x="670" y="2142">41</text><text x="670" y="2194">42</text><text x="670" y="2246">43</text><text x="670" y="2298">44</text><text x="670" y="2350">45</text><text x="670" y="2402">46</text><text x="670" y="2454">47</text><text x="670" y="2506">48</text><text x="670" y="2558">49</text><text x="670" y="2610">50</text><text x="670" y="2662">51</text><text x="670" y="2714">52</text><text x="670" y="2766">53</text><text x="670" y="2818">54</text><text x="670" y="2870">55</text><text x="670" y="2922">56</text><text x="670" y="2974">57</text><text x="670" y="3026">58</text><text x="670" y="3078">59</text><text x="670" y="3130">60</text><text x="670" y="3182">61</text>
</g>
<text id="watermark" x="344" y="1654" text-anchor="middle" font-family="'Liberation Sans Narrow','Liberation Sans',Arial,sans-serif" font-size="17" textLength="154" lengthAdjust="spacingAndGlyphs" fill="#3a3a3a" stroke="#fff" stroke-width="2" paint-order="stroke">BRACELETBOOK.COM</text>
</svg>
